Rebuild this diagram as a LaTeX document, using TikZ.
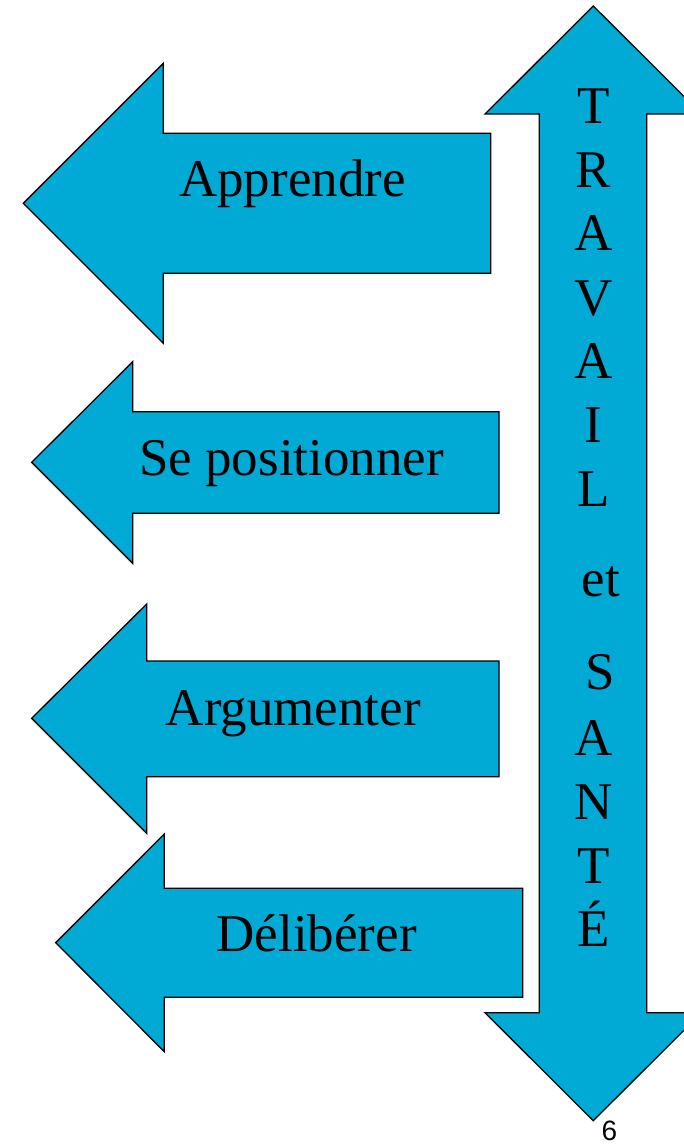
\documentclass[tikz,border=0pt]{standalone}
\usepackage{fontspec}
\setmainfont{Liberation Serif}
\newfontfamily\pagefont{Liberation Sans}
\definecolor{arrowblue}{RGB}{0,170,212}
\begin{document}
\begin{tikzpicture}[x=1pt,y=-1pt,
  arrowshape/.style={fill=arrowblue,draw=black,line width=1.3pt,line join=miter},
  lbl/.style={anchor=base,inner sep=0pt,font=\fontsize{53}{64}\selectfont}]
\useasboundingbox (0,0) rectangle (684,1145);
% left arrows
\draw[arrowshape] (23.3,203.3) -- (163.3,63.3) -- (163.3,133.3) -- (490.7,133.3) -- (490.7,273.3) -- (163.3,273.3) -- (163.3,343.3) -- cycle;
\draw[arrowshape] (31.7,462.3) -- (132.7,361.7) -- (132.7,411.7) -- (499,411.7) -- (499,513.3) -- (132.7,513.3) -- (132.7,563.3) -- cycle;
\draw[arrowshape] (31.7,718.3) -- (146.7,604) -- (146.7,661) -- (499,661) -- (499,776.7) -- (146.7,776.7) -- (146.7,833.3) -- cycle;
\draw[arrowshape] (55.7,942.7) -- (164.3,834) -- (164.3,888.3) -- (522.7,888.3) -- (522.7,997.3) -- (164.3,997.3) -- (164.3,1051.7) -- cycle;
% vertical double arrow
\draw[arrowshape] (593.3,6) -- (701.6,114) -- (646.7,114) -- (646.7,1012.7) -- (701.6,1012.7) -- (593.3,1120.7) -- (485,1012.7) -- (539.3,1012.7) -- (539.3,114) -- (485,114) -- cycle;
% labels
\node[lbl] (apprendre) at (292.5,196.7) {Apprendre};
\node[lbl] (positionner) at (291.5,475) {Se positionner};
\node[lbl] (argumenter) at (293.3,725) {Argumenter};
\node[lbl] (deliberer) at (316.7,951.7) {Délibérer};
\foreach \t/\x/\y [count=\i] in {T/593.3/123.3, R/593.3/187.3, A/593.3/250.7, V/593.3/315, A/593.3/378.3, I/593.3/442.7, L/593.3/506, et/600.8/596.7, S/600/689.3, A/593.3/755, N/593.3/819.3, T/593.3/883.3, É/593.3/946.7}
  \node[lbl] (v\i) at (\x,\y) {\t};
\node[anchor=base,inner sep=0pt,font=\pagefont\fontsize{28}{33}\selectfont] (pg) at (609.3,1140) {6};
\end{tikzpicture}
\end{document}
